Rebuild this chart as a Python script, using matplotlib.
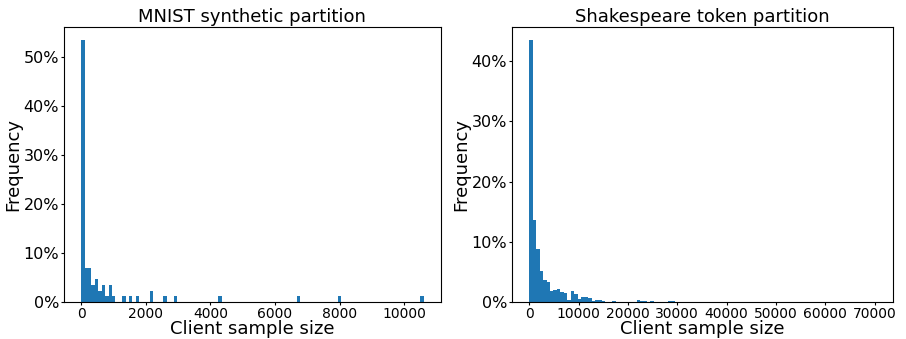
import numpy as np
import matplotlib.pyplot as plt
from matplotlib.ticker import PercentFormatter

N_BINS = 100

# MNIST: client counts per histogram bin (86 clients, 100 bins)
mnist_range = (0, 10600)
mnist_n_clients = 86
mnist_bin_idx = [0, 1, 2, 3, 4, 5, 6, 7, 8, 9, 12, 14, 16, 20, 24, 27, 40, 63, 75, 99]
mnist_counts = [46, 6, 6, 3, 4, 2, 3, 1, 3, 1, 1, 1, 1, 2, 1, 1, 1, 1, 1, 1]

# Shakespeare: frequency (%) per histogram bin
shake_range = (0, 70200)
shake_bin_idx = [0, 1, 2, 3, 4, 5, 6, 7, 8, 9, 10, 11, 12, 13, 14, 15, 16, 17, 18,
                 19, 20, 21, 24, 31, 32, 33, 35, 40, 41]
shake_freq = [43.5, 13.67, 8.83, 5.22, 3.72, 3.33, 1.83, 2.0, 2.22, 1.67, 1.5, 0.33,
              1.83, 1.33, 0.5, 0.83, 0.83, 0.67, 0.17, 0.33, 0.33, 0.17, 0.17,
              0.33, 0.17, 0.17, 0.17, 0.17, 0.17]


def bin_hist(ax, rng, idx, weights):
    """draw a histogram from per-bin weights"""
    edges = np.linspace(rng[0], rng[1], N_BINS + 1)
    centers = (edges[:-1] + edges[1:]) / 2
    ax.hist(centers[idx], bins=edges, weights=weights, color='#1f77b4')
    ax.yaxis.set_major_formatter(PercentFormatter(1, decimals=0))
    ax.set_xlabel('Client sample size', fontsize=13, labelpad=-1)
    ax.set_ylabel('Frequency', fontsize=13, labelpad=1)
    ax.tick_params(length=2.5, pad=1)
    ax.tick_params(axis='x', labelsize=10)
    ax.tick_params(axis='y', labelsize=11.5)


fig = plt.figure(figsize=(9.06, 3.39), dpi=100)
ax1 = fig.add_axes([0.0706, 0.109, 0.416, 0.811])
ax2 = fig.add_axes([0.565, 0.109, 0.4205, 0.811])

bin_hist(ax1, mnist_range, mnist_bin_idx, np.array(mnist_counts) / mnist_n_clients)
ax1.set_title('MNIST synthetic partition', fontsize=13, pad=4)
ax1.set_xticks([0, 2000, 4000, 6000, 8000, 10000])

bin_hist(ax2, shake_range, shake_bin_idx, np.array(shake_freq) / 100)
ax2.set_title('Shakespeare token partition', fontsize=13, pad=4)
ax2.set_xticks(range(0, 70001, 10000))
ax2.set_yticks([0, 0.1, 0.2, 0.3, 0.4])

fig.savefig('out.png', dpi=100)
